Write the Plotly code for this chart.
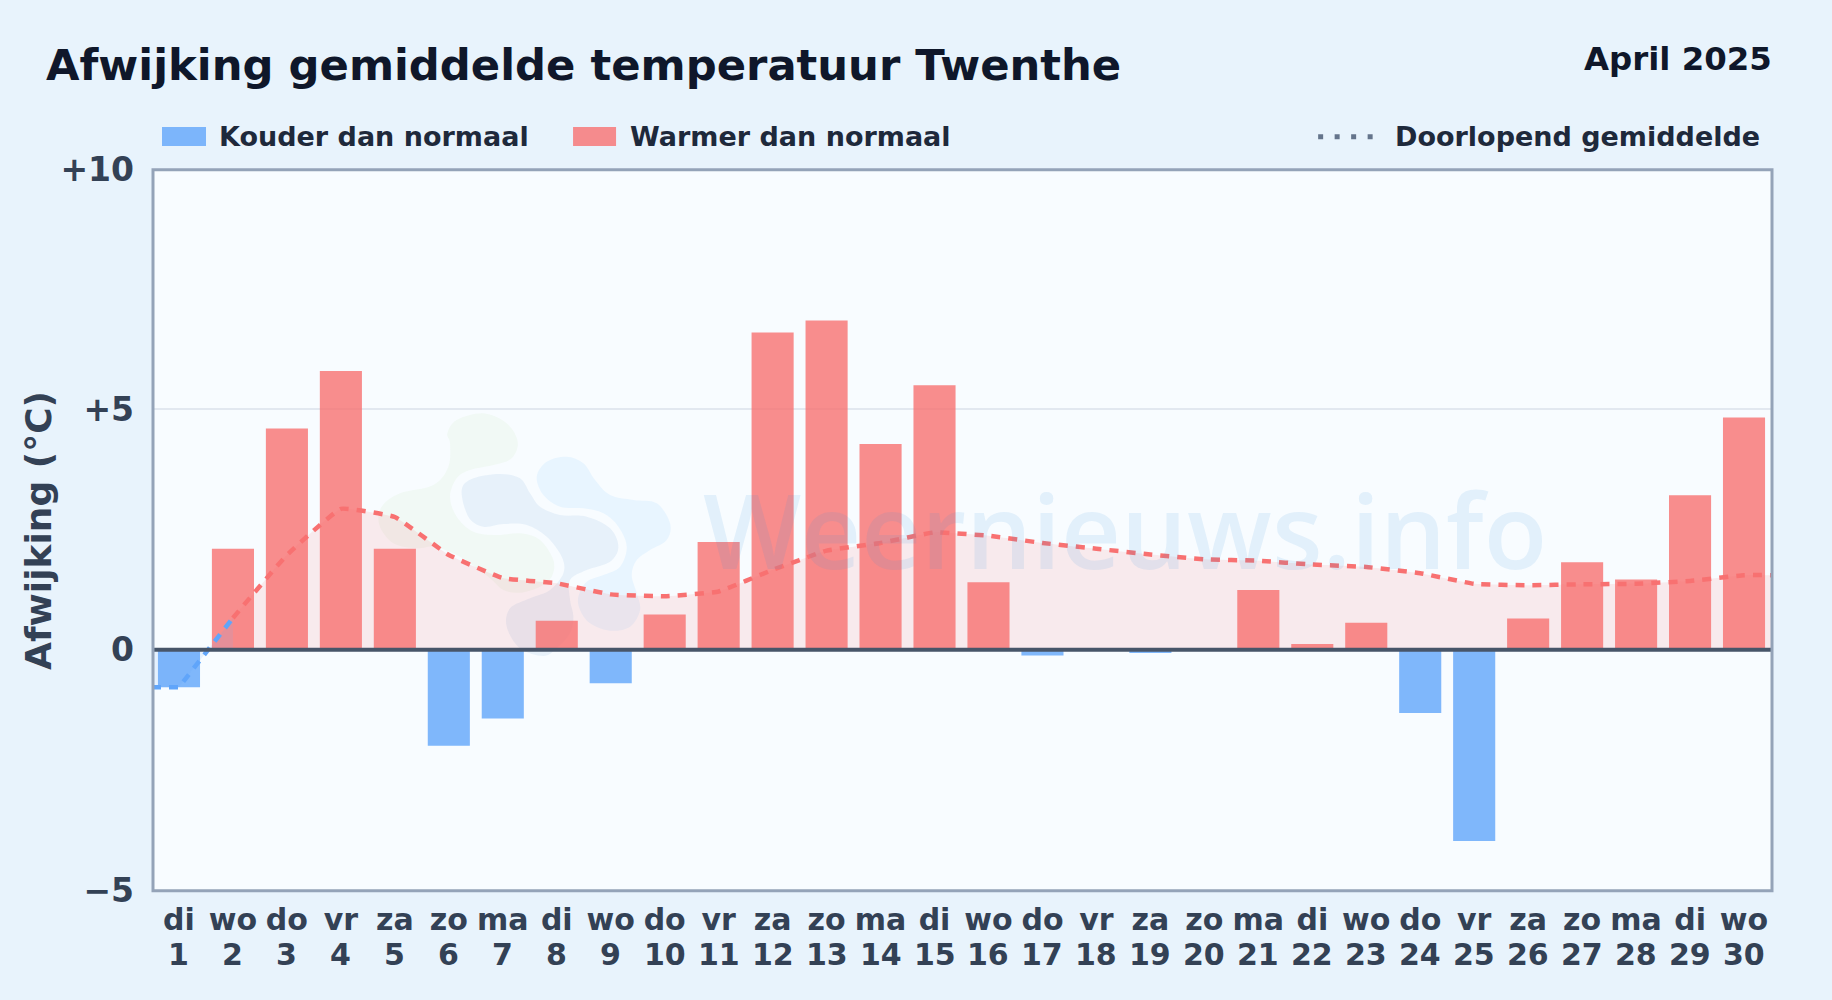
import plotly.graph_objects as go

days = list(range(1, 31))
weekdays = ["di","wo","do","vr","za","zo","ma","di","wo","do","vr","za","zo","ma","di",
            "wo","do","vr","za","zo","ma","di","wo","do","vr","za","zo","ma","di","wo"]
deviation = [-0.78, 2.1, 4.6, 5.8, 2.1, -2.0, -1.43, 0.6, -0.7, 0.73, 2.24, 6.6, 6.85, 4.28, 5.5,
             1.4, -0.12, 0.0, -0.07, 0.0, 1.24, 0.12, 0.56, -1.32, -3.98, 0.65, 1.82, 1.46, 3.21, 4.83]
running_mean = [-0.78, 0.66, 1.97, 2.93, 2.76, 1.97, 1.49, 1.38, 1.15, 1.11, 1.21, 1.66, 2.06, 2.22, 2.44,
                2.37, 2.22, 2.10, 1.98, 1.88, 1.85, 1.77, 1.72, 1.59, 1.37, 1.34, 1.36, 1.37, 1.43, 1.55]
y_ticks = [-5, 0, 5, 10]
y_labels = ["\u22125", "0", "+5", "+10"]

W, H = 1832, 1000
L, R, T, B = 152.0, 1770.8, 169.0, 890.0
FONT = "DejaVu Sans"

def px(x): return (x - L) / (R - L)
def py(y): return (B - y) / (B - T)

def blob(points, ox=370, oy=400, s=3.0):
    p = [(ox + a / s, oy + b / s) for a, b in points]
    n = len(p)
    d = f"M{px(p[0][0]):.5f},{py(p[0][1]):.5f}"
    for i in range(n):
        p0, p1, p2, p3 = p[i - 1], p[i], p[(i + 1) % n], p[(i + 2) % n]
        c1 = (p1[0] + (p2[0] - p0[0]) / 6, p1[1] + (p2[1] - p0[1]) / 6)
        c2 = (p2[0] - (p3[0] - p1[0]) / 6, p2[1] - (p3[1] - p1[1]) / 6)
        d += f" C{px(c1[0]):.5f},{py(c1[1]):.5f} {px(c2[0]):.5f},{py(c2[1]):.5f} {px(p2[0]):.5f},{py(p2[1]):.5f}"
    return d + " Z"

logo_green = [(232,100),(260,60),(340,40),(410,70),(443,125),(425,175),(370,195),(300,210),(260,235),(240,290),
              (260,350),(310,395),(380,405),(450,400),(510,420),(550,480),(545,530),(510,560),(450,578),(400,570),
              (360,535),(300,490),(250,460),(190,440),(140,445),(70,430),(28,375),(35,320),(90,280),(190,255),
              (235,200),(240,130)]
logo_dark = [(275,270),(310,235),(390,222),(450,235),(480,280),(510,320),(570,345),(650,350),(720,385),(745,440),
             (720,485),(650,510),(600,540),(600,600),(610,650),(600,700),(560,745),(520,768),(450,745),(410,680),
             (420,625),(480,595),(540,570),(580,520),(575,470),(530,410),(470,375),(400,372),(340,380),(295,350)]
logo_light = [(500,230),(530,185),(590,170),(640,190),(675,240),(720,285),(790,300),(860,310),(900,370),(890,420),
              (840,450),(800,480),(785,525),(800,580),(810,630),(780,680),(720,692),(660,670),(630,630),(625,590),
              (650,545),(700,525),(750,500),(770,440),(745,380),(700,340),(640,325),(570,320),(520,285)]

BLUE = "rgba(96,165,250,0.8)"
RED = "rgba(248,113,113,0.8)"
BLUE_LINE = "#60a5fa"
RED_LINE = "#f87171"

colors = [BLUE if v < 0 else RED for v in deviation]

fig = go.Figure()
fig.add_trace(go.Bar(x=days, y=deviation, marker=dict(color=colors, line=dict(width=0)), width=0.78, name="Afwijking", showlegend=False))
# running mean, blue first stretch then red, clamped to the plot edges
fig.add_trace(go.Scatter(x=[0.5] + days[:2], y=[running_mean[0]] + running_mean[:2], mode="lines", name="Doorlopend gemiddelde",
                         line=dict(color=BLUE_LINE, width=4.5, shape="linear", dash="9px,8px"),
                         fill="tozeroy", fillcolor="rgba(96,165,250,0.12)", showlegend=False, hoverinfo="skip"))
fig.add_trace(go.Scatter(x=days[1:] + [30.5], y=running_mean[1:] + [running_mean[-1]], mode="lines", name="Doorlopend gemiddelde",
                         line=dict(color=RED_LINE, width=4.5, shape="spline", smoothing=0.3, dash="9px,8px"),
                         fill="tozeroy", fillcolor="rgba(248,113,113,0.13)", showlegend=False, hoverinfo="skip"))

shapes = [
    dict(type="path", path=blob(logo_green), xref="paper", yref="paper", layer="below", line=dict(width=0), fillcolor="rgba(134,200,90,0.06)"),
    dict(type="path", path=blob(logo_dark), xref="paper", yref="paper", layer="below", line=dict(width=0), fillcolor="rgba(40,110,190,0.08)"),
    dict(type="path", path=blob(logo_light), xref="paper", yref="paper", layer="below", line=dict(width=0), fillcolor="rgba(56,170,250,0.08)"),
    dict(type="line", xref="paper", yref="y", x0=px(153), x1=px(1771.8), y0=0, y1=0, layer="above", line=dict(color="#475569", width=4)),
    dict(type="rect", xref="paper", yref="paper", x0=px(153), x1=px(1771.8), y0=py(890.7), y1=py(169.7), layer="above", line=dict(color="#94a3b8", width=3)),
    dict(type="rect", xref="paper", yref="paper", x0=px(162), x1=px(206), y0=py(146), y1=py(127), line=dict(width=0), fillcolor=BLUE),
    dict(type="rect", xref="paper", yref="paper", x0=px(573), x1=px(616), y0=py(146), y1=py(127), line=dict(width=0), fillcolor=RED),
    dict(type="line", xref="paper", yref="paper", x0=px(1318), x1=px(1376), y0=py(136.7), y1=py(136.7), line=dict(color="#64748b", width=5, dash="5px,11.5px")),
]

def note(text, x, y, size, color, xanchor="left", weight=700, family=FONT, angle=0):
    return dict(text=text, x=px(x), y=py(y), xref="paper", yref="paper", xanchor=xanchor, yanchor="middle",
                showarrow=False, align=xanchor, textangle=angle,
                font=dict(family=family, size=size, color=color, weight=weight))

annotations = [
    note("Afwijking gemiddelde temperatuur Twenthe", 44.5, 65, 43.3, "#0f172a"),
    note("April 2025", 1774, 59, 32.4, "#0f172a", xanchor="right"),
    note("Kouder dan normaal", 217, 136.5, 27, "#1e293b"),
    note("Warmer dan normaal", 628, 136.5, 27, "#1e293b"),
    note("Doorlopend gemiddelde", 1393, 136.5, 27, "#1e293b"),
    note("Weernieuws.info", 1125, 528, 104, "rgba(59,150,220,0.11)", xanchor="center", weight=600, family="Open Sans"),
    note("Afwijking (\u00b0C)", 38.5, 530.5, 36, "#334155", xanchor="center", angle=-90),
]
for d in days:
    annotations.append(dict(text=str(d), x=d, y=py(954.5), xref="x", yref="paper", xanchor="center", yanchor="middle",
                            showarrow=False, font=dict(family=FONT, size=30, color="#334155", weight=700)))

fig.update_layout(
    width=W, height=H,
    margin=dict(l=L, r=W - R, t=T, b=H - B, pad=0),
    paper_bgcolor="#e8f3fc", plot_bgcolor="#f8fcff",
    font=dict(family=FONT),
    showlegend=False, bargap=0.22,
    shapes=shapes, annotations=annotations,
    xaxis=dict(range=[0.5, 30.5], tickmode="array", tickvals=days, ticktext=weekdays,
               tickangle=0,
               tickfont=dict(family=FONT, size=30, color="#334155", weight=700),
               showgrid=False, zeroline=False, showline=False,
               ticks="", ticklabelstandoff=9),
    yaxis=dict(range=[-5, 10], tickmode="array", tickvals=y_ticks, ticktext=y_labels,
               tickfont=dict(family=FONT, size=33, color="#334155", weight=700),
               showgrid=True, gridcolor="#e2e8f0", gridwidth=2, zeroline=False,
               showline=False, ticks="", ticklabelstandoff=17),
)

fig.write_html("out.html", config=dict(displayModeBar=False),
               post_script="document.body.style.margin='0';document.body.style.background='#e8f3fc';")
